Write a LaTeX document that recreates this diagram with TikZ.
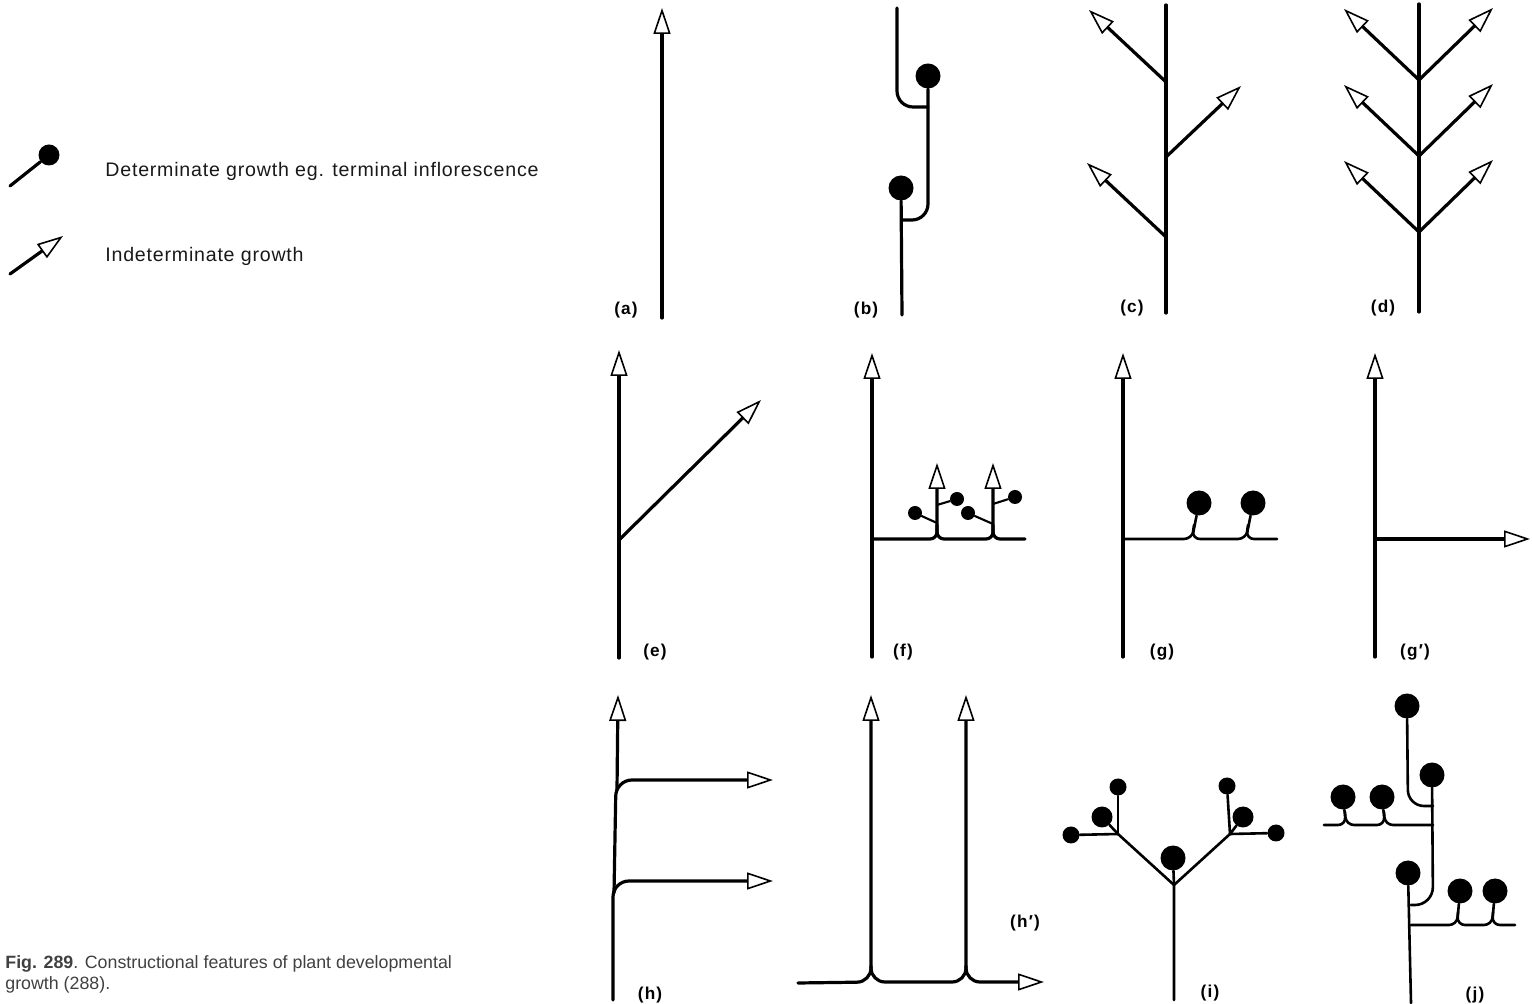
\documentclass[tikz,border=0pt]{standalone}
\usepackage{fontspec}
\setmainfont{Liberation Sans}
\newfontfamily\legendfont{Liberation Sans}[LetterSpace=4]
\newfontfamily\tagfont{Liberation Sans}[LetterSpace=7]
\usetikzlibrary{arrows.meta}

\begin{document}
\begin{tikzpicture}[x=0.5pt, y=-0.5pt,
  stem/.style={line width=1.6pt, line cap=round},
  shoot/.style={line width=1.3pt, line cap=round},
  twig/.style={line width=1.05pt, line cap=round},
  apex/.style={-{Triangle[open, fill=white, length=13pt, width=8.5pt, line width=0.8pt]}},
  bud/.style={circle, fill=black, inner sep=0pt, minimum size=12.5pt},
  tag/.style={font=\tagfont\bfseries\fontsize{8.6}{10}\selectfont, inner sep=0pt}]
\useasboundingbox (0,0) rectangle (1532,1004);
% legend
\node[bud, minimum size=10.5pt] (lgbud) at (49,155) {};
\draw[stem] (10,186) -- (lgbud);
\draw[stem, apex] (10,274) -- (63,236);
\node[anchor=base west, inner sep=0pt, font=\legendfont\fontsize{9.8}{12}\selectfont, text=black!90] (lgdet) at (105,177)
  {Determinate growth eg. terminal inflorescence};
\node[anchor=base west, inner sep=0pt, font=\legendfont\fontsize{9.8}{12}\selectfont, text=black!90] (lgind) at (105,262)
  {Indeterminate growth};
% caption
\node[anchor=north west, align=left, inner sep=0pt, text=black!75,
  font=\fontsize{8.9}{10.5}\selectfont] (caption) at (5,955)
  {\textbf{Fig. 289}. Constructional features of plant developmental\\growth (288).};

% (a) single indeterminate axis
\draw[stem, apex] (662,318) -- (662,8);
\node[tag] (la) at (626,310) {(a)};

% (b) sympodium of terminal inflorescences
\node[bud] (b1) at (928,76) {};
\node[bud] (b2) at (901,188) {};
\draw[stem, rounded corners=8pt] (897,8) -- (897,107) -- (928,107);
\draw[stem, rounded corners=8pt] (b1) -- (928,220) -- (902,220);
\draw[stem] (b2) -- (902,315);
\node[tag] (lb) at (866,310) {(b)};

% (c) alternate branching
\draw[stem] (1166,313) -- (1166,5);
\draw[stem, apex] (1166,82) -- (1089,10);
\draw[stem, apex] (1166,157) -- (1241,86);
\draw[stem, apex] (1166,237) -- (1087,163);
\node[tag] (lc) at (1132,308) {(c)};

% (d) opposite branching
\draw[stem] (1419,312) -- (1419,4);
\foreach \ny in {80,156,232} {
  \draw[stem, apex] (1419,\ny) -- (1344,\ny-71);
  \draw[stem, apex] (1419,\ny) -- (1493,\ny-72);
}
\node[tag] (ld) at (1383,308) {(d)};

% (e) oblique lateral
\draw[stem, apex] (619,658) -- (619,350);
\draw[stem, apex] (619,540) -- (761,400);
\node[tag] (le) at (655,652) {(e)};

% (f) horizontal lateral with upright shoots
\draw[stem, apex] (872,657) -- (872,353);
\node[bud, minimum size=7pt] (f1) at (915,513) {};
\node[bud, minimum size=7pt] (f2) at (957,499) {};
\node[bud, minimum size=7pt] (f3) at (968,513) {};
\node[bud, minimum size=7pt] (f4) at (1015,497) {};
\draw[stem, apex, rounded corners=3.5pt] (872,539) -- (937,539) -- (937,463);
\draw[stem, apex, rounded corners=3.5pt] (937,525) -- (937,539) -- (993,539) -- (993,463);
\draw[stem, rounded corners=3.5pt] (993,525) -- (993,539) -- (1025,539);
\draw[twig] (937,523) -- (f1);
\draw[twig] (937,505) -- (f2);
\draw[twig] (993,524) -- (f3);
\draw[twig] (993,504) -- (f4);
\node[tag] (lf) at (903,652) {(f)};

% (g) horizontal lateral with terminal flowers
\draw[stem, apex] (1123,657) -- (1123,353);
\node[bud] (g1) at (1199,503) {};
\node[bud] (g2) at (1253,503) {};
\draw[shoot, rounded corners=4pt] (1123,539) -- (1192,539) -- (g1);
\draw[shoot, rounded corners=4pt] (1194,525) -- (1192,539) -- (1246,539) -- (g2);
\draw[shoot, rounded corners=4pt] (1248,525) -- (1246,539) -- (1277,539);
\node[tag] (lg) at (1162,652) {(g)};

% (g') horizontal indeterminate lateral
\draw[stem, apex] (1375,657) -- (1375,353);
\draw[stem, apex] (1375,539) -- (1530,539);
\node[tag] (lgp) at (1415,652) {(g′)};

% (h) upright sympodium turning horizontal
\draw[stem, apex, rounded corners=8pt] (613,1000) -- (613,881) -- (773,881);
\draw[stem, apex, rounded corners=8pt] (614,893) -- (616,780) -- (773,780);
\draw[stem, apex] (617,790) -- (618,695);
\node[tag] (lh) at (650,995) {(h)};

% (h') horizontal sympodium turning upright
\draw[stem, apex, rounded corners=7pt] (798,983) -- (871,982) -- (871,695);
\draw[stem, apex, rounded corners=7pt] (871,966) -- (871,982) -- (966,982) -- (966,695);
\draw[stem, apex, rounded corners=7pt] (966,966) -- (966,982) -- (1044,982);
\node[tag] (lhp) at (1025,923) {(h′)};

% (i) dichasium
\node[bud] (i0) at (1173,858) {};
\node[bud, minimum size=8.5pt] (ilt) at (1118,787) {};
\node[bud, minimum size=10.5pt] (ilm) at (1102,817) {};
\node[bud, minimum size=8.5pt] (ill) at (1071,835) {};
\node[bud, minimum size=8.5pt] (irt) at (1227,786) {};
\node[bud, minimum size=10.5pt] (irm) at (1243,817) {};
\node[bud, minimum size=8.5pt] (irr) at (1276,833) {};
\coordinate (ifork) at (1174,885);
\coordinate (ileft) at (1118,834);
\coordinate (iright) at (1230,834);
\draw[shoot] (1174,1000) -- (ifork) -- (i0);
\draw[shoot] (ifork) -- (ileft);
\draw[shoot] (ifork) -- (iright);
\foreach \d in {ilt,ilm,ill} \draw[shoot] (ileft) -- (\d);
\foreach \d in {irt,irm,irr} \draw[shoot] (iright) -- (\d);
\node[tag] (li) at (1210,993) {(i)};

% (j) sympodium with lateral flowering shoots
\foreach \n/\px/\py in {j1/1407/706, j2/1432/775, j3/1343/797, j4/1382/797,
                        j5/1408/873, j6/1460/891, j7/1495/891}
  \node[bud] (\n) at (\px,\py) {};
\draw[shoot, rounded corners=8pt] (j1) -- (1408,806) -- (1433,806);
\draw[shoot, rounded corners=9pt] (j2) -- (1433,905) -- (1411,905);
\draw[shoot, rounded corners=4pt] (1324,825) -- (1346,825) -- (j3);
\draw[shoot, rounded corners=4pt] (1345,812) -- (1346,825) -- (1385,825) -- (j4);
\draw[shoot, rounded corners=4pt] (1384,812) -- (1385,825) -- (1433,825);
\draw[shoot] (j5) -- (1411,1003);
\draw[shoot, rounded corners=4pt] (1411,925) -- (1457,925) -- (j6);
\draw[shoot, rounded corners=4pt] (1458,912) -- (1457,925) -- (1492,925) -- (j7);
\draw[shoot, rounded corners=4pt] (1493,912) -- (1492,925) -- (1515,925);
\node[tag] (lj) at (1475,995) {(j)};
\end{tikzpicture}
\end{document}
